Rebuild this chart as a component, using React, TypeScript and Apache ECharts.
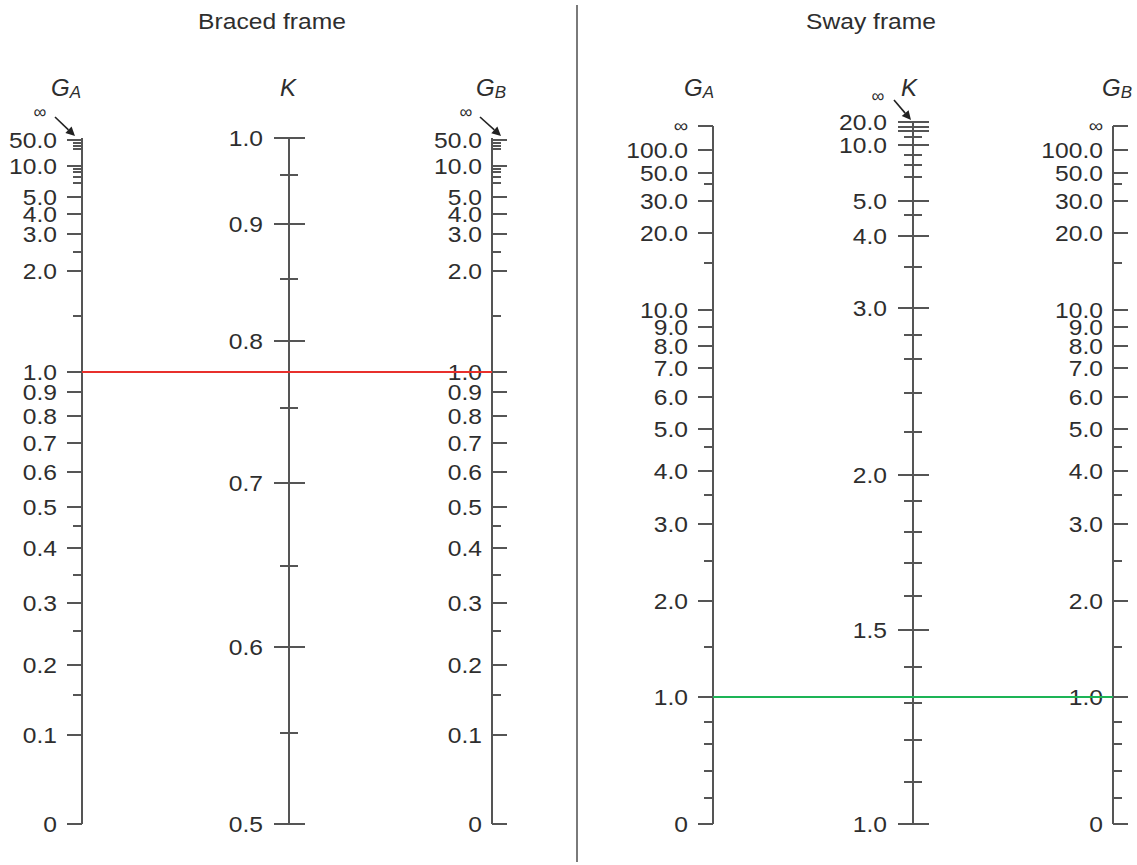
import React, { useEffect, useRef } from 'react';
import * as echarts from 'echarts';

// ---------- DATA (scale position = height above the base of the scale) ----------
const bracedGLabels = ['50.0', '10.0', '5.0', '4.0', '3.0', '2.0', '1.0', '0.9', '0.8', '0.7', '0.6', '0.5', '0.4', '0.3', '0.2', '0.1', '0'];
const bracedGPos = [684, 658, 627, 610, 590, 553, 452, 432, 408, 381, 352, 317, 276, 221, 159, 89, 0];
const bracedGMinorPos = [681, 678, 675, 655, 652, 647, 641, 572, 508, 298, 249, 193, 129];
const bracedGTop = 686;

const bracedKLabels = ['1.0', '0.9', '0.8', '0.7', '0.6', '0.5'];
const bracedKPos = [686, 600, 483, 341, 177, 0];
const bracedKMinorPos = [649, 545, 416, 258, 91];
const bracedKTop = 686;

const swayGLabels = ['∞', '100.0', '50.0', '30.0', '20.0', '10.0', '9.0', '8.0', '7.0', '6.0', '5.0', '4.0', '3.0', '2.0', '1.0', '0'];
const swayGPos = [698, 674, 651, 623, 591, 514, 497, 478, 456, 427, 395, 353, 300, 223, 127, 0];
const swayGMinorPos = [640, 561, 377, 329, 263, 177, 102, 80, 53, 26];
const swayGTop = 698;

const swayKLabels = ['20.0', '', '', '10.0', '5.0', '4.0', '3.0', '2.0', '1.5', '1.0'];
const swayKPos = [702, 697, 693, 679, 623, 588, 516, 349, 194, 0];
const swayKMinorPos = [687, 669, 659, 647, 609, 557, 489, 465, 431, 392, 323, 292, 261, 228, 157, 121, 84, 42];
const swayKTop = 702;

const bracedExample = '1.0'; // G_A = G_B = 1.0 (braced)
const swayExample = '1.0'; // G_A = G_B = 1.0 (sway)

// ---------- LAYOUT ----------
const W = 1137;
const H = 865;
const BASE_Y = 824;
const COL = { bGA: 82, bK: 289, bGB: 492, sGA: 713, sK: 913, sGB: 1113 };
const DIVIDER_X = 577;
const INK = '#555555';
const TEXT = '#2e2e2e';
const FONT = '"Liberation Sans", Arial, Helvetica, sans-serif';
const SX = 1.12;

type Kind = 'left' | 'right' | 'center';

function scaleSeries(x: number, kind: Kind, labels: string[], pos: number[], minor: number[], top: number) {
  const data: number[][] = [];
  labels.forEach((_, i) => data.push([x, pos[i], 1, i]));
  minor.forEach((p) => data.push([x, p, 0, -1]));
  const tickSeries = {
    type: 'custom',
    silent: true,
    z: 3,
    encode: { x: 0, y: 1 },
    data,
    renderItem: (params: any, api: any) => {
      const p = api.value(1);
      const major = api.value(2) === 1;
      const li = api.value(3);
      const pt = api.coord([x, p]);
      const cx = pt[0];
      const cy = pt[1];
      let x1: number, x2: number, labelRight: number;
      if (kind === 'left') {
        x1 = cx - (major ? 15 : 9);
        x2 = cx;
        labelRight = cx - 25;
      } else if (kind === 'right') {
        x1 = cx;
        x2 = cx + (major ? 15 : 9);
        labelRight = cx - 10;
      } else {
        x1 = cx - (major ? 15 : 9);
        x2 = cx + (major ? 16 : 9);
        labelRight = cx - 26;
      }
      const children: any[] = [
        { type: 'line', shape: { x1, y1: cy, x2, y2: cy }, style: { stroke: INK, lineWidth: 2 } },
      ];
      const label = li >= 0 ? labels[li] : '';
      if (label) {
        children.push({
          type: 'text',
          x: labelRight,
          y: cy,
          scaleX: SX,
          style: {
            text: label,
            align: 'right',
            verticalAlign: 'middle',
            fontSize: label === '∞' ? 18 : 22,
            fontFamily: FONT,
            fill: TEXT,
          },
        });
      }
      return { type: 'group', children };
    },
  };
  const lineSeries = {
    type: 'line',
    silent: true,
    z: 2,
    symbol: 'none',
    lineStyle: { color: INK, width: 2 },
    data: [[x, 0], [x, top]],
  };
  return [lineSeries, tickSeries];
}

// infinity markers with arrows: [x, top, textDx, textDy, startDx, startDy, tipDx, tipDy]
function infinitySeries(items: number[][]) {
  return {
    type: 'custom',
    silent: true,
    z: 4,
    encode: { x: 0, y: 1 },
    data: items,
    renderItem: (params: any, api: any) => {
      const pt = api.coord([api.value(0), api.value(1)]);
      const tdx = api.value(2), tdy = api.value(3);
      const sx = pt[0] + api.value(4), sy = pt[1] + api.value(5);
      const tx = pt[0] + api.value(6), ty = pt[1] + api.value(7);
      const dx = tx - sx, dy = ty - sy;
      const L = Math.sqrt(dx * dx + dy * dy);
      const ux = dx / L, uy = dy / L;
      const hl = 9, hw = 4.5;
      const bx = tx - ux * hl, by = ty - uy * hl;
      return {
        type: 'group',
        children: [
          {
            type: 'text',
            x: pt[0] + tdx,
            y: pt[1] + tdy,
            style: { text: '∞', align: 'center', verticalAlign: 'middle', fontSize: 18, fontFamily: FONT, fill: TEXT },
          },
          { type: 'line', shape: { x1: sx, y1: sy, x2: bx, y2: by }, style: { stroke: '#222', lineWidth: 1.6 } },
          {
            type: 'polygon',
            shape: { points: [[tx, ty], [bx - uy * hw, by + ux * hw], [bx + uy * hw, by - ux * hw]] },
            style: { fill: '#222' },
          },
        ],
      };
    },
  };
}

function gName(sub: string, x: number, y: number) {
  return {
    type: 'text',
    left: x,
    top: y,
    style: {
      text: `{g|G}{s|${sub}}`,
      rich: {
        g: { fontSize: 24, fontStyle: 'italic', fontFamily: FONT, fill: TEXT },
        s: { fontSize: 17, fontStyle: 'italic', fontFamily: FONT, fill: TEXT, padding: [10, 0, 0, 0] },
      },
    },
  };
}

export default function App() {
  const ref = useRef<HTMLDivElement>(null);
  useEffect(() => {
    if (!ref.current) return;
    const chart = echarts.init(ref.current, undefined, { renderer: 'svg' });
    const bIdx = bracedGLabels.indexOf(bracedExample);
    const sIdx = swayGLabels.indexOf(swayExample);
    const option: any = {
      animation: false,
      backgroundColor: '#ffffff',
      grid: { left: 0, right: 0, top: 0, bottom: 0 },
      xAxis: { type: 'value', min: 0, max: W, show: false },
      yAxis: { type: 'value', min: -(H - BASE_Y), max: BASE_Y, show: false },
      graphic: [
        {
          type: 'text',
          x: 272,
          y: 21,
          scaleX: 1.12,
          style: { text: 'Braced frame', align: 'center', verticalAlign: 'middle', fontSize: 22, fontFamily: FONT, fill: TEXT },
        },
        {
          type: 'text',
          x: 871,
          y: 21,
          scaleX: 1.12,
          style: { text: 'Sway frame', align: 'center', verticalAlign: 'middle', fontSize: 22, fontFamily: FONT, fill: TEXT },
        },
        { type: 'line', shape: { x1: DIVIDER_X, y1: 5, x2: DIVIDER_X, y2: 862 }, style: { stroke: '#7a7a7a', lineWidth: 2 } },
        gName('A', 51, 75),
        {
          type: 'text',
          left: 280,
          top: 75,
          style: { text: 'K', fontSize: 24, fontStyle: 'italic', fontFamily: FONT, fill: TEXT },
        },
        gName('B', 476, 75),
        gName('A', 684, 75),
        {
          type: 'text',
          left: 901,
          top: 75,
          style: { text: 'K', fontSize: 24, fontStyle: 'italic', fontFamily: FONT, fill: TEXT },
        },
        gName('B', 1102, 75),
      ],
      series: [
        ...scaleSeries(COL.bGA, 'left', bracedGLabels, bracedGPos, bracedGMinorPos, bracedGTop),
        ...scaleSeries(COL.bK, 'center', bracedKLabels, bracedKPos, bracedKMinorPos, bracedKTop),
        ...scaleSeries(COL.bGB, 'right', bracedGLabels, bracedGPos, bracedGMinorPos, bracedGTop),
        ...scaleSeries(COL.sGA, 'left', swayGLabels, swayGPos, swayGMinorPos, swayGTop),
        ...scaleSeries(COL.sK, 'center', swayKLabels, swayKPos, swayKMinorPos, swayKTop),
        ...scaleSeries(COL.sGB, 'right', swayGLabels, swayGPos, swayGMinorPos, swayGTop),
        infinitySeries([
          [COL.bGA, bracedGTop, -42, -26, -27, -21, -7, -2],
          [COL.bGB, bracedGTop, -26, -26, -12, -21, 9, -2],
          [COL.sK, swayKTop, -35, -26, -19, -22, -2, -2],
        ]),
        {
          type: 'line',
          silent: true,
          z: 5,
          symbol: 'none',
          lineStyle: { color: '#e8302c', width: 2 },
          data: [[COL.bGA, bracedGPos[bIdx]], [COL.bGB, bracedGPos[bIdx]]],
        },
        {
          type: 'line',
          silent: true,
          z: 5,
          symbol: 'none',
          lineStyle: { color: '#1db456', width: 2 },
          data: [[COL.sGA, swayGPos[sIdx]], [COL.sGB, swayGPos[sIdx]]],
        },
      ],
    };
    chart.setOption(option);
    return () => chart.dispose();
  }, []);
  return <div ref={ref} style={{ position: 'absolute', left: 0, top: 0, width: W, height: H }} />;
}
